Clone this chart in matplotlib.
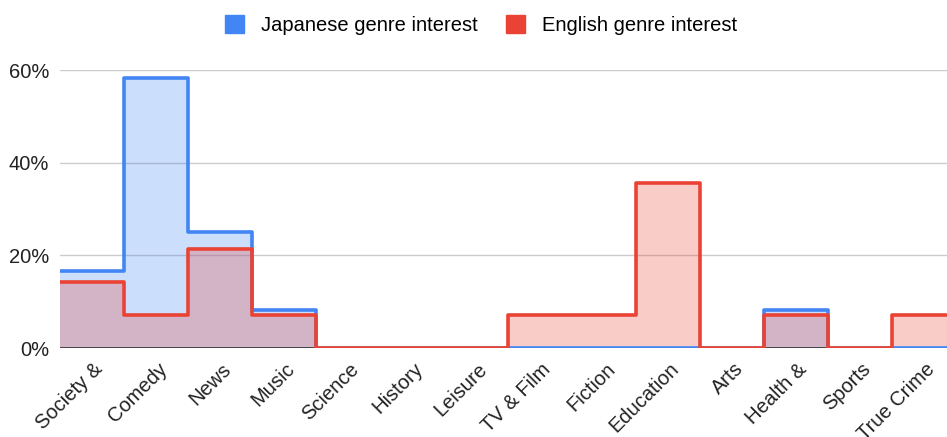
import numpy as np
import matplotlib.pyplot as plt
import matplotlib.transforms as mtransforms
from matplotlib.patches import Patch
from matplotlib.ticker import FuncFormatter

plt.rcParams['font.family'] = ['Liberation Sans', 'DejaVu Sans']

genres = ['Society &', 'Comedy', 'News', 'Music', 'Science', 'History', 'Leisure',
          'TV & Film', 'Fiction', 'Education', 'Arts', 'Health &', 'Sports', 'True Crime']
japanese = [16.7, 58.3, 25.0, 8.3, 0, 0, 0, 0, 0, 0, 0, 8.3, 0, 0]
english = [14.3, 7.1, 21.4, 7.1, 0, 0, 0, 7.1, 7.1, 35.7, 0, 7.1, 0, 7.1]

BLUE = '#4285f4'
RED = '#ea4335'
W, H = 947, 437
FS = 14.5

fig = plt.figure(figsize=(W / 100, H / 100), dpi=100)
# plot area runs past the right edge, as in the source
ax = fig.add_axes([60 / W, 1 - 348 / H, 896 / W, (348 - 70) / H])

edges = np.arange(len(genres) + 1)
labels = ['Japanese genre interest', 'English genre interest']
for vals, color in [(japanese, BLUE), (english, RED)]:
    y = list(vals) + [vals[-1]]
    ax.fill_between(edges, y, step='post', color=color, alpha=0.27, lw=0)
    ax.step(edges, y, where='post', color=color, lw=2.6,
            solid_joinstyle='round', solid_capstyle='round')

ax.set_xlim(0, len(genres))
ax.set_ylim(0, 60)
ax.set_yticks([0, 20, 40, 60])
ax.yaxis.set_major_formatter(FuncFormatter(lambda v, p: f'{v:.0f}%'))
ax.grid(axis='y', color='#cccccc', lw=1)
ax.set_axisbelow(True)
ax.axhline(0, color='#333333', lw=1.2, zorder=1.5)
for s in ax.spines.values():
    s.set_visible(False)
ax.tick_params(length=0, labelsize=FS, colors='#222222')
ax.tick_params(axis='y', pad=8)

ax.set_xticks(edges[:-1] + 0.5)
ax.set_xticklabels(genres, rotation=45, ha='right', va='center',
                   rotation_mode='anchor')
ax.tick_params(axis='x', pad=13)
shift = mtransforms.ScaledTranslation(8 / 100, 0, fig.dpi_scale_trans)
for lab in ax.get_xticklabels():
    lab.set_transform(lab.get_transform() + shift)

handles = [Patch(color=BLUE), Patch(color=RED)]
fig.legend(handles, labels, loc='center', bbox_to_anchor=(481 / W, 1 - 25 / H),
           ncol=2, frameon=False, fontsize=FS, handlelength=0.95, handleheight=0.95,
           columnspacing=1.4, handletextpad=0.85)

fig.savefig('out.png', dpi=100)
